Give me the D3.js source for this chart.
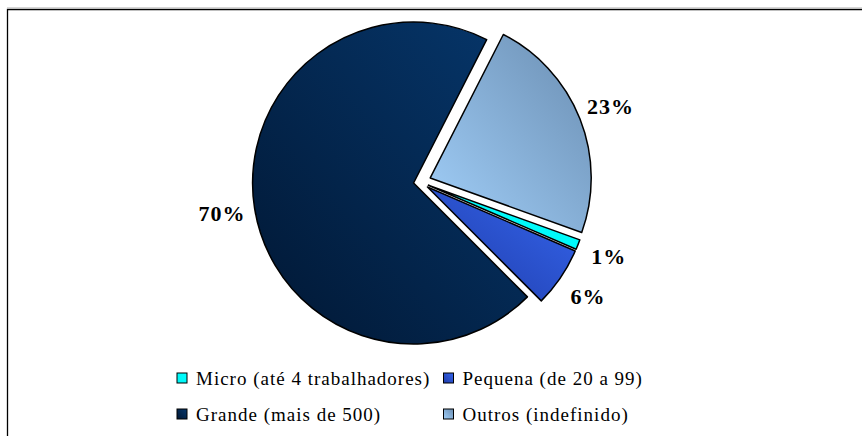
<!DOCTYPE html>
<html>
<head>
<meta charset="utf-8">
<script src="https://cdn.jsdelivr.net/npm/d3@7"></script>
<style>
  body { margin: 0; background: #fff; }
  svg { display: block; }
  .pct { font: bold 22px "Liberation Serif", "Times New Roman", serif; letter-spacing: 1px; fill: #000; }
  .legend text { font: 19px "Liberation Serif", "Times New Roman", serif; letter-spacing: 1px; fill: #000; }
</style>
</head>
<body>
<div id="chart"></div>
<script>
// data, in the order Excel drew the slices (clockwise)
var categories = ["Micro (até 4 trabalhadores)", "Pequena (de 20 a 99)", "Grande (mais de 500)", "Outros (indefinido)"];
var values = [1, 6, 70, 23];
var valueLabels = ["1%", "6%", "70%", "23%"];

var width = 862, height = 436;
var cx = 420, cy = 182, radius = 161, labelRadius = 194;
var firstAngle = 109.8; // degrees, clockwise from 12 o'clock

// how far each slice is pulled out of the pie
var explode = {
  "Micro (até 4 trabalhadores)": 9,
  "Pequena (de 20 a 99)": 9,
  "Grande (mais de 500)": 6.5,
  "Outros (indefinido)": 11
};

// gradient stops per slice: [top-right, bottom-left]
var fills = {
  "Micro (até 4 trabalhadores)": ["#00ffff", "#00f4f4"],
  "Pequena (de 20 a 99)": ["#3566ee", "#1f3ba8"],
  "Grande (mais de 500)": ["#06376c", "#011733"],
  "Outros (indefinido)": ["#6a8db1", "#a2d0fa"]
};

var svg = d3.select("#chart").append("svg")
    .attr("width", width)
    .attr("height", height);

var defs = svg.append("defs");
categories.forEach(function(c, i) {
  var g = defs.append("linearGradient")
      .attr("id", "grad" + i)
      .attr("x1", 1).attr("y1", 0)
      .attr("x2", 0).attr("y2", 1);
  g.append("stop").attr("offset", 0).attr("stop-color", fills[c][0]);
  g.append("stop").attr("offset", 1).attr("stop-color", fills[c][1]);
});

// frame (only its top and left edges fall inside the picture)
svg.append("line")
    .attr("x1", 7).attr("x2", width).attr("y1", 7.5).attr("y2", 7.5)
    .attr("stroke", "#d6d6d6").attr("stroke-width", 1);
svg.append("path")
    .attr("d", "M7.5," + height + "V9.5H" + width)
    .attr("fill", "none")
    .attr("stroke", "#000")
    .attr("stroke-width", 1.3);

var pie = d3.pie()
    .sort(null)
    .value(function(d) { return d; })
    .startAngle(firstAngle * Math.PI / 180)
    .endAngle(firstAngle * Math.PI / 180 + 2 * Math.PI);

var arcs = pie(values);

var arc = d3.arc().innerRadius(0).outerRadius(radius);
var labelArc = d3.arc().innerRadius(labelRadius).outerRadius(labelRadius);

function offset(d, i) {
  var mid = (d.startAngle + d.endAngle) / 2;
  var e = explode[categories[i]];
  return [e * Math.sin(mid), -e * Math.cos(mid)];
}

var slices = svg.append("g")
    .attr("transform", "translate(" + cx + "," + cy + ")");

var slice = slices.selectAll("g")
    .data(arcs)
    .enter().append("g")
    .attr("transform", function(d, i) {
      var o = offset(d, i);
      return "translate(" + o[0] + "," + o[1] + ")";
    });

slice.append("path")
    .attr("d", arc)
    .attr("fill", function(d, i) { return "url(#grad" + i + ")"; })
    .attr("stroke", "#000")
    .attr("stroke-width", 1.5)
    .attr("stroke-linejoin", "round");

slice.append("text")
    .attr("class", "pct")
    .attr("transform", function(d) { return "translate(" + labelArc.centroid(d) + ")"; })
    .attr("text-anchor", "middle")
    .attr("dy", "0.35em")
    .text(function(d, i) { return valueLabels[i]; });

// legend, two columns
var legendX = [176.5, 443], legendY = [378, 414];

var legend = svg.append("g")
    .attr("class", "legend")
    .selectAll("g")
    .data(categories)
    .enter().append("g")
    .attr("transform", function(d, i) {
      return "translate(" + legendX[i % 2] + "," + legendY[Math.floor(i / 2)] + ")";
    });

legend.append("rect")
    .attr("x", 0.5).attr("y", -5)
    .attr("width", 10).attr("height", 10)
    .attr("fill", function(d, i) { return "url(#grad" + i + ")"; })
    .attr("stroke", "#000")
    .attr("stroke-width", 1);

legend.append("text")
    .attr("x", 19.5)
    .attr("dy", "0.35em")
    .text(function(d) { return d; });
</script>
</body>
</html>
